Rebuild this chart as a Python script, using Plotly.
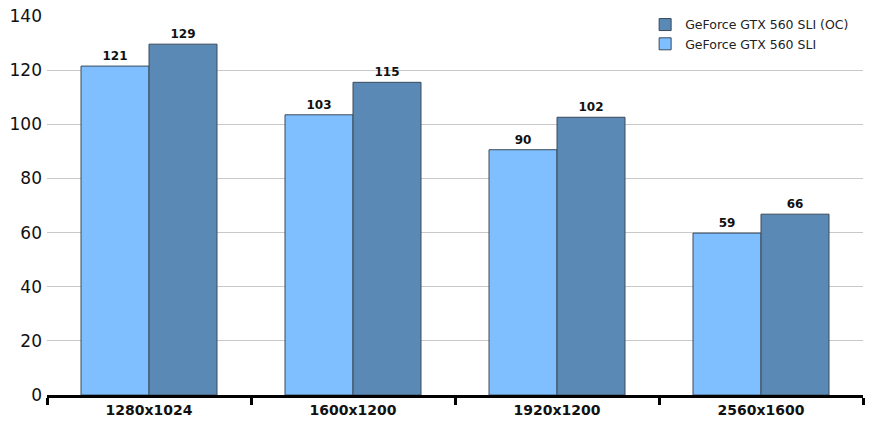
import plotly.graph_objects as go

categories = ["1280x1024", "1600x1200", "1920x1200", "2560x1600"]
sli = [121.5, 103.5, 90.6, 59.8]
sli_oc = [129.6, 115.5, 102.6, 66.8]
sli_labels = ["121", "103", "90", "59"]
oc_labels = ["129", "115", "102", "66"]
y_ticks = [0, 20, 40, 60, 80, 100, 120, 140]

FONT = "DejaVu Sans, Verdana, sans-serif"

fig = go.Figure()
fig.add_trace(go.Bar(
    x=categories, y=sli, name="GeForce GTX 560 SLI",
    marker=dict(color="#80BFFF", line=dict(color="#3a4a5a", width=1)),
    text=sli_labels, textposition="outside", cliponaxis=False,
    textfont=dict(family=FONT, size=12, color="#111"),
))
fig.add_trace(go.Bar(
    x=categories, y=sli_oc, name="GeForce GTX 560 SLI (OC)",
    marker=dict(color="#5B89B5", line=dict(color="#3a4a5a", width=1)),
    text=oc_labels, textposition="outside", cliponaxis=False,
    textfont=dict(family=FONT, size=12, color="#111"),
))

fig.update_layout(
    width=877, height=427,
    margin=dict(l=47, r=14, t=16, b=32, autoexpand=False),
    paper_bgcolor="white", plot_bgcolor="white",
    barmode="group", bargap=1/3, bargroupgap=0,
    font=dict(family=FONT, color="#222"),
    uniformtext=dict(mode=False),
    legend=dict(
        x=0.733, y=1.016, xanchor="left", yanchor="top",
        traceorder="reversed", bgcolor="rgba(0,0,0,0)",
        font=dict(family=FONT, size=12.5, color="#222"),
        itemwidth=30, tracegroupgap=0,
    ),
    showlegend=True,
)
fig.update_xaxes(
    type="category", tickson="boundaries", automargin=False,
    ticks="outside", ticklen=7, tickwidth=3, tickcolor="black",
    showline=True, linecolor="black", linewidth=3,
    showgrid=False,
    tickfont=dict(family=FONT, size=14, color="#111", weight="bold"),
)
fig.update_yaxes(
    range=[0, 140], tickvals=y_ticks, automargin=False,
    showgrid=True, gridcolor="#c8c8c8", gridwidth=1,
    zeroline=False, showline=False, ticks="",
    tickfont=dict(family=FONT, size=17, color="#111"),
    ticklabelstandoff=4,
)
fig.update_traces(textfont_weight="bold")

fig.write_html(
    "out.html",
    config={"displayModeBar": False},
    post_script="document.body.style.margin='0';document.body.style.overflow='hidden';",
)
